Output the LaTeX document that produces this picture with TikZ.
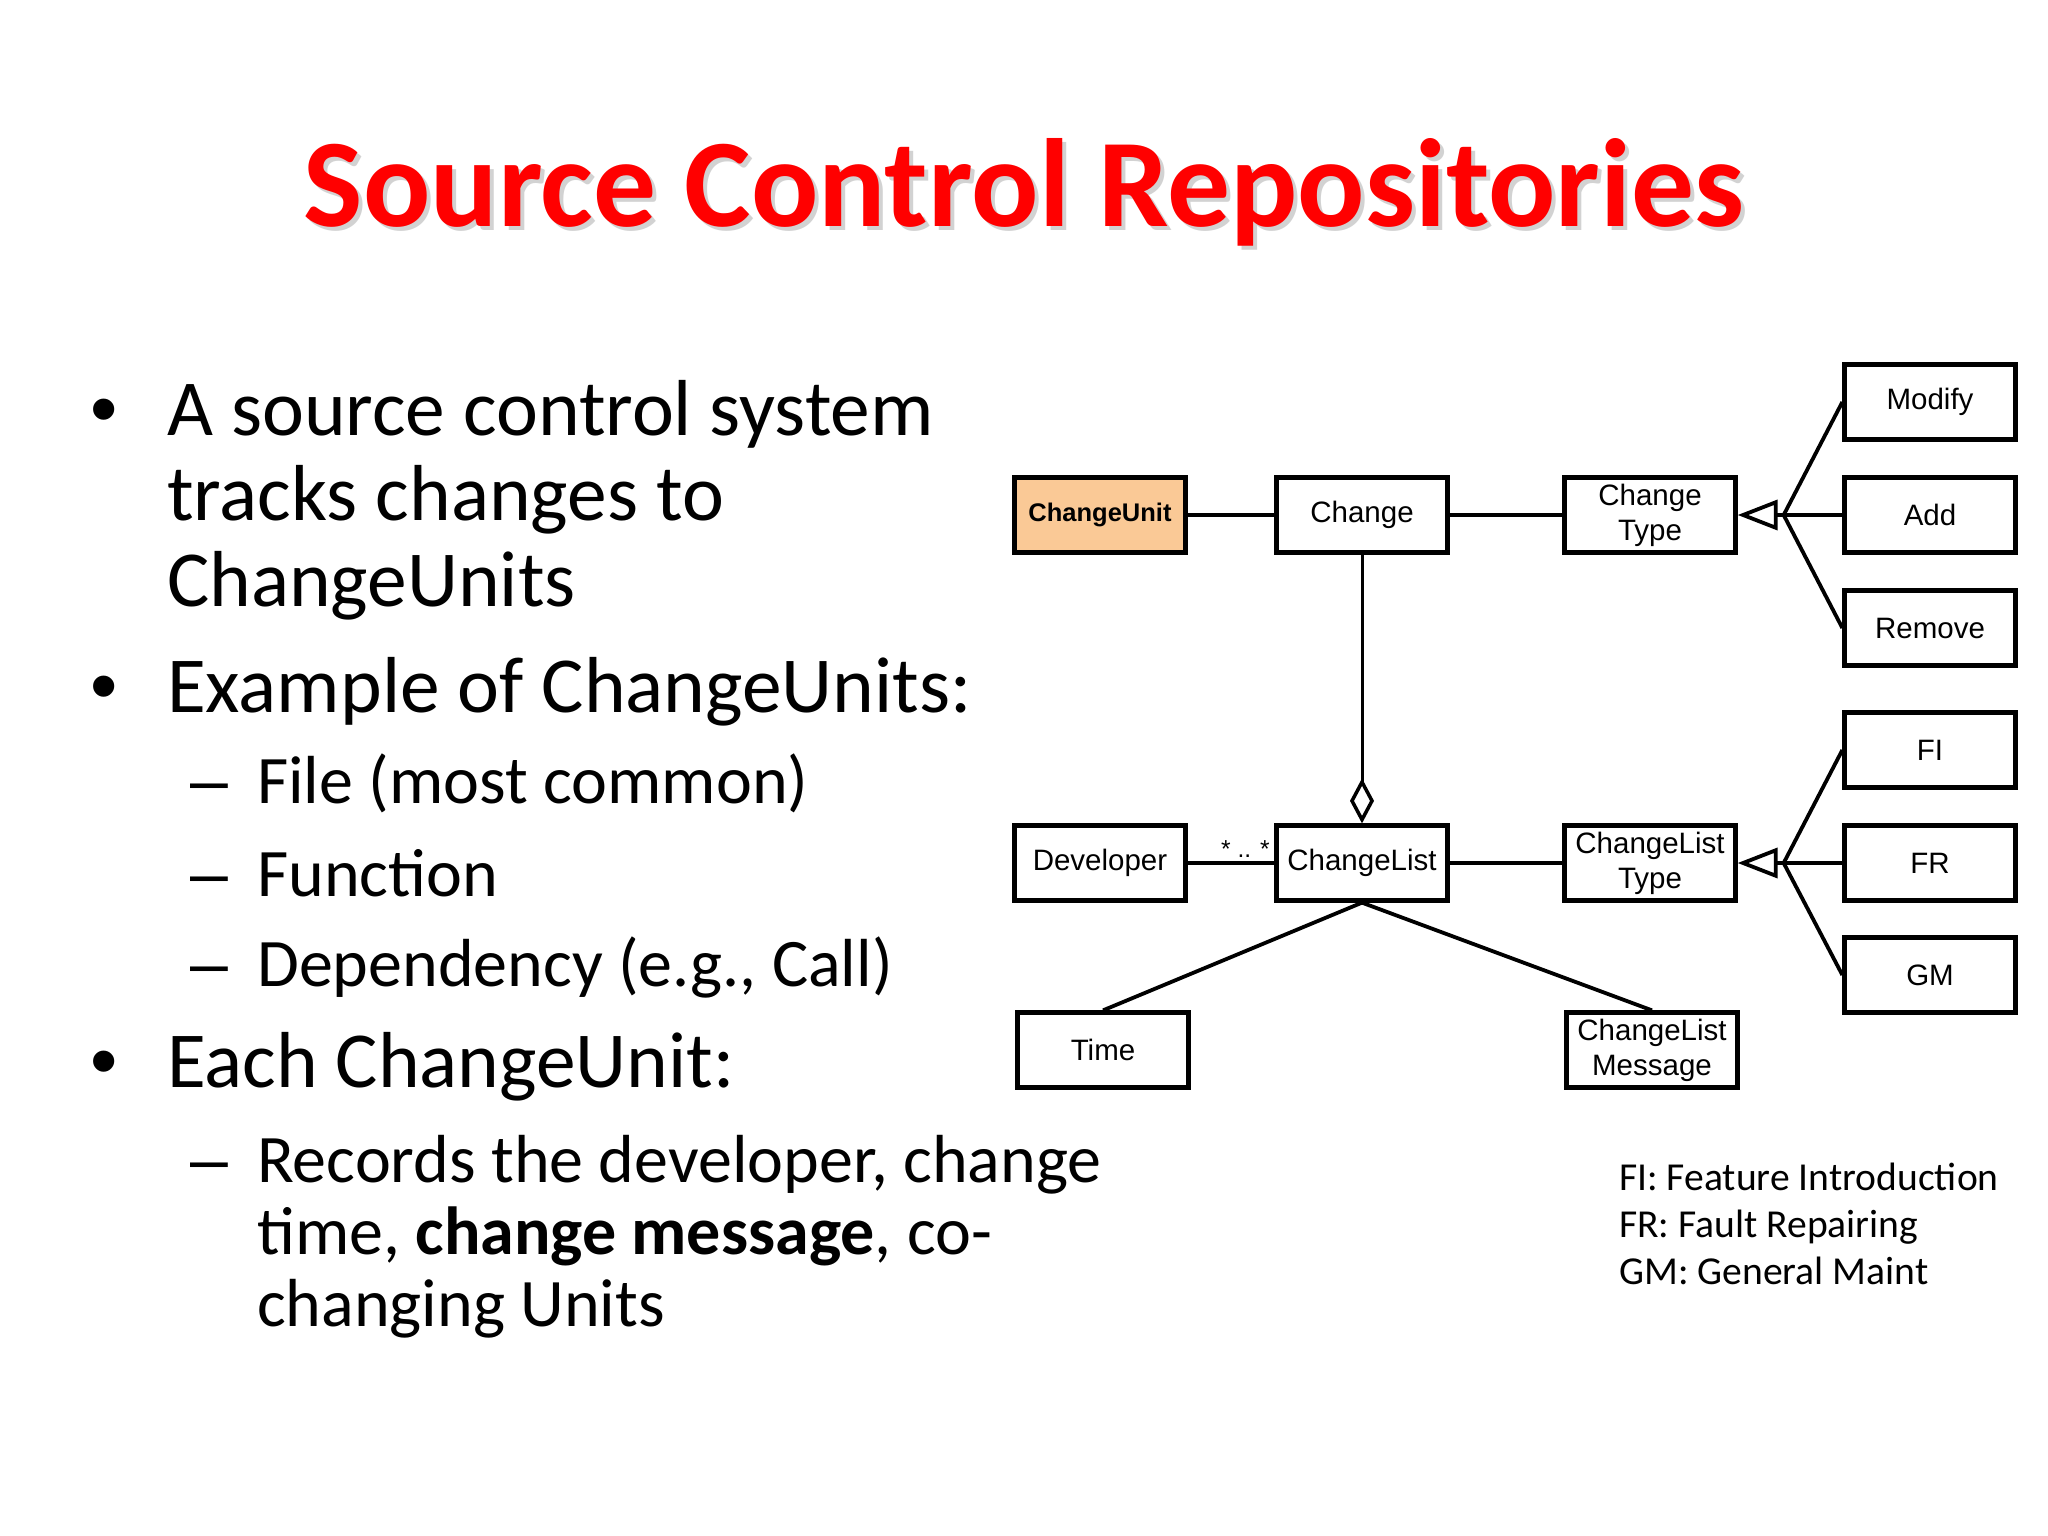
\documentclass[tikz,border=0pt]{standalone}
\usepackage{fontspec}
\setmainfont{Carlito}
\newfontfamily\arialfont{Liberation Sans}
\usetikzlibrary{arrows.meta}
\definecolor{peach}{RGB}{250,201,150}
\definecolor{titlered}{RGB}{255,0,0}
\begin{document}
\begin{tikzpicture}[x=1pt,y=-1pt,
  box/.style={draw=black, line width=4.3pt, fill=white, minimum width=171pt, minimum height=75pt, inner sep=0pt, align=center, font=\arialfont\fontsize{29.5}{35}\selectfont},
  conn/.style={line width=3.8pt},
  lone/.style={anchor=base west, inner sep=0pt, font=\fontsize{79.4}{85}\selectfont},
  ltwo/.style={anchor=base west, inner sep=0pt, font=\fontsize{68}{72}\selectfont},
  bul/.style={anchor=base west, inner sep=0pt, font=\arialfont\fontsize{78}{85}\selectfont},
  dsh/.style={anchor=base west, inner sep=0pt, font=\arialfont\fontsize{68}{72}\selectfont},
  leg/.style={anchor=base west, inner sep=0pt, font=\fontsize{39.6}{47}\selectfont},
  ttl/.style={anchor=base, inner sep=0pt, font=\bfseries\fontsize{125.5}{130}\selectfont},
]
\useasboundingbox (0,0) rectangle (2048,1536);
\fill[white] (0,0) rectangle (2048,1536);

% title
\node[ttl, text=black!35, opacity=0.5] (titleshadow) at (1028,230) {Source Control Repositories};
\node[ttl, text=titlered] (title) at (1024,226) {Source Control Repositories};

% bullets
\node[bul] (b1) at (90,435) {•};
\node[lone] (t1a) at (167,435) {A source control system};
\node[lone] (t1b) at (167,520) {tracks changes to};
\node[lone] (t1c) at (167,606) {ChangeUnits};
\node[bul] (b2) at (90,712) {•};
\node[lone] (t2) at (167,712) {Example of ChangeUnits:};
\node[dsh] (d1) at (190,803) {–};
\node[ltwo] (t21) at (257,803) {File (most common)};
\node[dsh] (d2) at (190,896) {–};
\node[ltwo] (t22) at (257,896) {Function};
\node[dsh] (d3) at (190,986) {–};
\node[ltwo] (t23) at (257,986) {Dependency (e.g., Call)};
\node[bul] (b3) at (90,1087) {•};
\node[lone] (t3) at (167,1087) {Each ChangeUnit:};
\node[dsh] (d4) at (190,1182) {–};
\node[ltwo] (t31a) at (257,1182) {Records the developer, change};
\node[ltwo] (t31b) at (257,1254) {time, \textbf{change message}, co-};
\node[ltwo] (t31c) at (257,1326) {changing Units};

% legend
\node[leg] (lg1) at (1619,1190) {FI: Feature Introduction};
\node[leg] (lg2) at (1619,1237) {FR: Fault Repairing};
\node[leg] (lg3) at (1619,1284) {GM: General Maint};

% diagram boxes
\node[box, fill=peach, font=\arialfont\bfseries\fontsize{25.5}{30}\selectfont] (CU) at (1100,515) {ChangeUnit};
\node[box] (Change) at (1362,515) {Change};
\node[box] (CT) at (1650,515) {Change\\Type};
\node[box] (Modify) at (1930,402) {Modify};
\node[box] (Add) at (1930,515) {Add};
\node[box] (Remove) at (1930,628) {Remove};
\node[box] (FI) at (1930,750) {FI};
\node[box] (FR) at (1930,863) {FR};
\node[box] (GM) at (1930,975) {GM};
\node[box] (Dev) at (1100,863) {Developer};
\node[box] (CL) at (1362,863) {ChangeList};
\node[box] (CLT) at (1650,863) {ChangeList\\Type};
\node[box] (Time) at (1103,1050) {Time};
\node[box] (CLM) at (1652,1050) {ChangeList\\Message};

% connectors
\draw[conn] (CU) -- (Change);
\draw[conn] (Change) -- (CT);
\draw[conn] (Dev) -- (CL);
\draw[conn] (CL) -- (CLT);
\draw[conn] (CL.south) -- (Time.north);
\draw[conn] (CL.south) -- (CLM.north);
\draw[line width=3pt, -{Diamond[open, length=45pt, width=24pt, line width=3.5pt]}] (Change.south) -- (CL.north);

\coordinate (j1) at ([xshift=46pt]CT.east);
\draw[conn, -{Triangle[open, length=40pt, width=30pt, line width=3.8pt]}] (Add.west) -- (CT.east);
\draw[conn] (Modify.west) -- (j1);
\draw[conn] (Remove.west) -- (j1);

\coordinate (j2) at ([xshift=46pt]CLT.east);
\draw[conn, -{Triangle[open, length=40pt, width=30pt, line width=3.8pt]}] (FR.west) -- (CLT.east);
\draw[conn] (FI.west) -- (j2);
\draw[conn] (GM.west) -- (j2);

\node[anchor=base west, inner sep=0pt, font=\arialfont\fontsize{24.5}{28}\selectfont] (mult) at (1221,857) {* .. *};
\end{tikzpicture}
\end{document}
